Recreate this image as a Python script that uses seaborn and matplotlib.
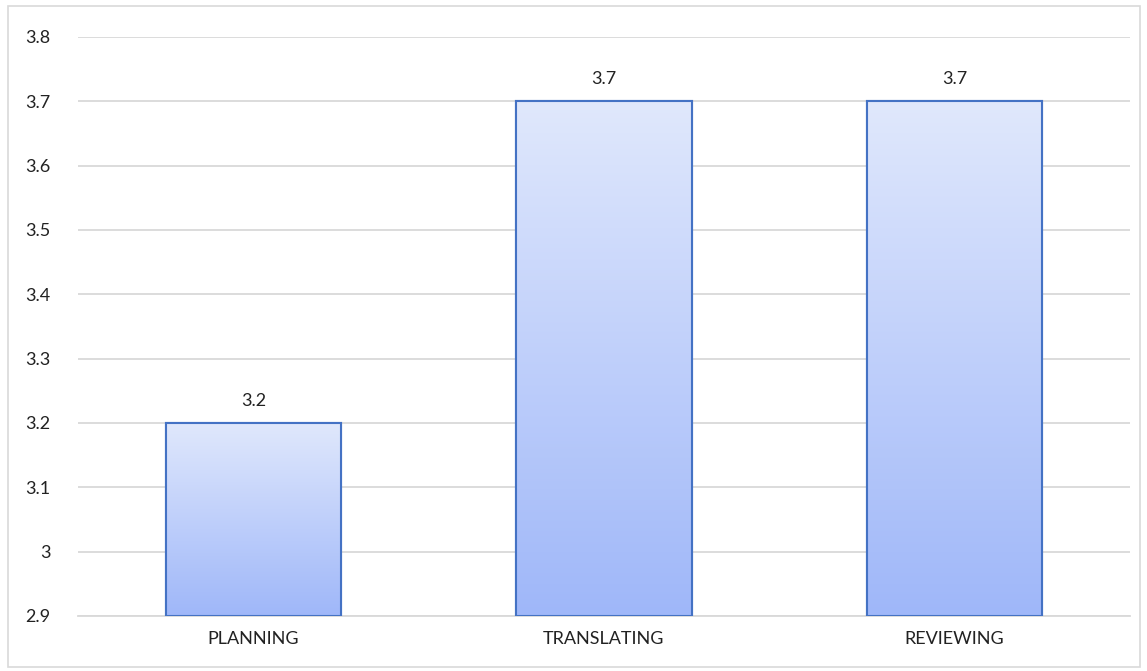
import numpy as np
import pandas as pd
import matplotlib
matplotlib.use("Agg")
import matplotlib.pyplot as plt
import seaborn as sns
from matplotlib.colors import LinearSegmentedColormap
from matplotlib.patches import Rectangle

stages = ["PLANNING", "TRANSLATING", "REVIEWING"]
scores = [3.2, 3.7, 3.7]
y_ticks = [2.9, 3.0, 3.1, 3.2, 3.3, 3.4, 3.5, 3.6, 3.7, 3.8]
y_tick_labels = ["2.9", "3", "3.1", "3.2", "3.3", "3.4", "3.5", "3.6", "3.7", "3.8"]

data = pd.DataFrame({"stage": stages, "score": scores})

sns.set_theme(style="white")
plt.rcParams["font.family"] = ["Lato", "DejaVu Sans"]

fig = plt.figure(figsize=(11.47, 6.71), dpi=100)
ax = fig.add_axes([0.068, 0.082, 0.917, 0.863])

sns.barplot(data=data, x="stage", y="score", ax=ax, width=0.5,
            color="#c5d3fa", edgecolor="#4472c4", linewidth=1.5, zorder=3)

ax.set_xlim(-0.5, 2.5)
ax.set_ylim(2.9, 3.8)

# gradient fill clipped to each bar
grad_cmap = LinearSegmentedColormap.from_list("bar", ["#9fb7f9", "#e0e8fc"])
gradient = np.linspace(0, 1, 256).reshape(-1, 1)
for bar in list(ax.patches):
    x0, w = bar.get_x(), bar.get_width()
    top = bar.get_y() + bar.get_height()
    im = ax.imshow(gradient, cmap=grad_cmap, aspect="auto", origin="lower",
                   extent=[x0, x0 + w, 2.9, top], zorder=3.5)
    im.set_clip_path(Rectangle((x0, 2.9), w, top - 2.9, transform=ax.transData))
    ax.add_patch(Rectangle((x0, 2.9), w, top - 2.9, fill=False,
                           edgecolor="#4472c4", linewidth=1.5, zorder=4))

ax.set_xlim(-0.5, 2.5)
ax.set_ylim(2.9, 3.8)

for i, v in enumerate(scores):
    ax.text(i, v + 0.022, f"{v:.1f}", ha="center", va="bottom",
            fontsize=13, color="#222222")

ax.set_yticks(y_ticks)
ax.set_yticklabels(y_tick_labels)
ax.yaxis.grid(True, color="#d9d9d9", linewidth=1.3, zorder=0)
ax.set_axisbelow(True)
ax.set_xlabel("")
ax.set_ylabel("")
ax.tick_params(axis="both", length=0, labelsize=13, labelcolor="#222222")
ax.tick_params(axis="x", pad=11)
ax.tick_params(axis="y", pad=20)
for s in ["top", "right", "left"]:
    ax.spines[s].set_visible(False)
ax.spines["bottom"].set_color("#d9d9d9")
ax.spines["bottom"].set_linewidth(1.3)

# outer chart frame
fig.patches.append(Rectangle((0.007, 0.006), 0.987, 0.985, transform=fig.transFigure,
                             fill=False, edgecolor="#d9d9d9", linewidth=1.2))

fig.savefig("out.png", dpi=100)
